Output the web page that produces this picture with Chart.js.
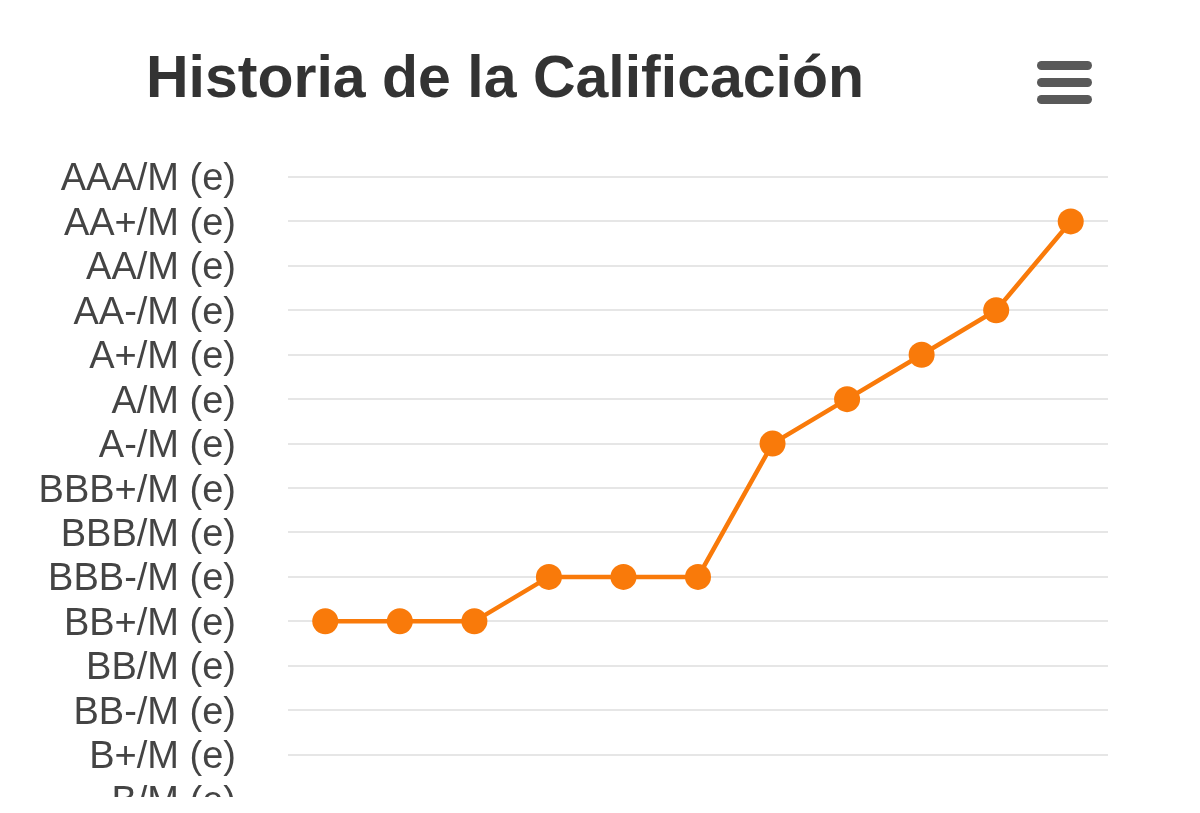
<!DOCTYPE html>
<html lang="es">
<head>
<meta charset="utf-8">
<title>Historia de la Calificación</title>
<script src="https://cdn.jsdelivr.net/npm/chart.js@4"></script>
<style>
  html, body { margin: 0; padding: 0; background: #fff; }
  .frame { position: relative; width: 1200px; height: 797px; overflow: hidden; }
  .chart-box { position: absolute; left: 0; top: 0; width: 1200px; height: 1096px; }
  .title {
    position: absolute; left: 146px; top: 48px;
    font: bold 59px "Liberation Sans", Arial, sans-serif; line-height: 59px;
    color: #333; white-space: nowrap;
  }
  .menu { position: absolute; left: 1037px; top: 61px; width: 55px; }
  .menu span { display: block; height: 9px; border-radius: 4.5px; background: #595959; margin-bottom: 8px; }
</style>
</head>
<body>
<div class="frame">
  <div class="chart-box"><canvas id="ratingChart"></canvas></div>
  <div class="title">Historia de la Calificación</div>
  <div class="menu"><span></span><span></span><span></span></div>
</div>
<script>
// rating scale, top to bottom
const ratings = [
  "AAA/M (e)", "AA+/M (e)", "AA/M (e)", "AA-/M (e)", "A+/M (e)", "A/M (e)",
  "A-/M (e)", "BBB+/M (e)", "BBB/M (e)", "BBB-/M (e)", "BB+/M (e)", "BB/M (e)",
  "BB-/M (e)", "B+/M (e)", "B/M (e)", "B-/M (e)", "CCC/M (e)", "CC/M (e)",
  "C/M (e)", "D/M (e)",
];
// review periods (their labels sit below the visible crop)
const periods = ["1", "2", "3", "4", "5", "6", "7", "8", "9", "10", "11"];
const ratingHistory = [
  "BB+/M (e)", "BB+/M (e)", "BB+/M (e)", "BBB-/M (e)", "BBB-/M (e)", "BBB-/M (e)",
  "A-/M (e)", "A/M (e)", "A+/M (e)", "AA-/M (e)", "AA+/M (e)",
];

const orange = "#f97a0a";

new Chart(document.querySelector("#ratingChart"), {
  type: "line",
  data: {
    labels: periods,
    datasets: [
      {
        label: "Calificación",
        data: ratingHistory,
        borderColor: orange,
        backgroundColor: orange,
        borderWidth: 4.5,
        tension: 0,
        pointRadius: 13,
        pointBorderWidth: 0,
        pointBackgroundColor: orange,
      },
    ],
  },
  options: {
    responsive: true,
    maintainAspectRatio: false,
    animation: false,
    layout: { padding: { top: 177, right: 92, bottom: 30, left: 0 } },
    plugins: {
      legend: { display: false },
      tooltip: { enabled: false },
    },
    scales: {
      x: {
        type: "category",
        offset: true,
        display: false,
      },
      y: {
        type: "category",
        labels: ratings,
        offset: false,
        border: { display: false },
        grid: { color: "#e6e6e6", lineWidth: 2, drawTicks: false },
        ticks: {
          autoSkip: false,
          padding: 52,
          labelOffset: 3,
          color: "#444",
          font: { family: "'Liberation Sans', Arial, sans-serif", size: 38 },
        },
        afterFit: (scale) => {
          scale.width = 288;
        },
      },
    },
  },
});
</script>
</body>
</html>
